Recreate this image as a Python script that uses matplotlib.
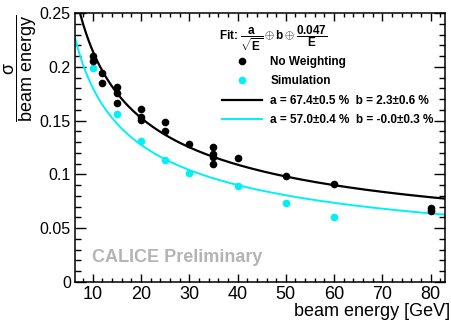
import numpy as np
import matplotlib
matplotlib.use("Agg")
import matplotlib.pyplot as plt
from matplotlib.lines import Line2D
from matplotlib.ticker import MultipleLocator, FuncFormatter

plt.rcParams["font.family"] = ["Liberation Sans", "DejaVu Sans"]
plt.rcParams["mathtext.fontset"] = "custom"
plt.rcParams["mathtext.rm"] = "Liberation Sans"
plt.rcParams["mathtext.it"] = "Liberation Sans"
plt.rcParams["mathtext.bf"] = "Liberation Sans:bold"

# data
energy_nw = [10, 10, 12, 12, 15, 15, 15, 20, 20, 20, 25, 25, 30, 35, 35, 35, 35, 40, 50, 60, 80, 80]
res_nw = [0.210, 0.205, 0.1945, 0.185, 0.181, 0.176, 0.166, 0.1605, 0.1535, 0.151,
          0.149, 0.140, 0.128, 0.1255, 0.119, 0.116, 0.110, 0.115, 0.0988, 0.0914, 0.0685, 0.0663]
energy_sim = [10, 15, 20, 25, 30, 40, 50, 60, 80]
res_sim = [0.199, 0.1564, 0.1313, 0.1131, 0.1013, 0.0895, 0.0737, 0.0601, 0.067]

# fit parameters (a/sqrt(E) + b + c/E in quadrature)
fit_c = 0.047
fit_nw = (0.674, 0.023)
fit_sim = (0.570, 0.0)

leg_title = r"Fit: $\dfrac{\mathbf{a}}{\sqrt{\mathbf{E}}} \oplus \mathbf{b} \oplus \dfrac{\mathbf{0.047}}{\mathbf{E}}$"
leg_labels = ["No Weighting", "Simulation",
              "a = 67.4\u00b10.5 %  b = 2.3\u00b10.6 %",
              "a = 57.0\u00b10.4 %  b = -0.0\u00b10.3 %"]

CYAN = "#00f0f8"


def resolution(E, a, b):
    return np.sqrt((a / np.sqrt(E)) ** 2 + b ** 2 + (fit_c / E) ** 2)


fig = plt.figure(figsize=(4.51, 3.22), dpi=100)
ax = fig.add_axes([75 / 451, 40 / 322, 370 / 451, 269 / 322])

E = np.linspace(6.3, 83, 400)
ax.plot(E, resolution(E, *fit_sim), color=CYAN, lw=1.4)
ax.plot(E, resolution(E, *fit_nw), color="black", lw=1.6)
ax.plot(energy_sim, res_sim, "o", color=CYAN, ms=5.5, mew=0)
ax.plot(energy_nw, res_nw, "o", color="black", ms=5.5, mew=0)

ax.set_xlim(6.3, 83)
ax.set_ylim(0, 0.25)
ax.xaxis.set_major_locator(MultipleLocator(10))
ax.xaxis.set_minor_locator(MultipleLocator(2))
ax.yaxis.set_major_locator(MultipleLocator(0.05))
ax.yaxis.set_minor_locator(MultipleLocator(0.01))
ax.yaxis.set_major_formatter(FuncFormatter(lambda v, p: f"{v:g}"))
ax.tick_params(which="both", direction="in", top=True, right=True, width=1.0)
ax.tick_params(axis="x", which="major", length=6, labelsize=13, pad=3)
ax.tick_params(axis="x", which="minor", length=3)
ax.tick_params(axis="y", which="major", length=8, labelsize=11.5, pad=3)
ax.tick_params(axis="y", which="minor", length=4)
for sp in ax.spines.values():
    sp.set_linewidth(1.1)

ax.set_xlabel("beam energy [GeV]", fontsize=13, ha="right")
ax.xaxis.set_label_coords((450 - 75) / 370, -21 / 269)

fig.text(21 / 451, 1 - 68 / 322, r"$\dfrac{\sigma}{\mathrm{beam\ energy}}$",
         rotation=90, fontsize=13, ha="center", va="center")

ax.text((92 - 75) / 370, (282 - 257) / 269, "CALICE Preliminary", transform=ax.transAxes,
        fontsize=13, fontweight="bold", color="#b4b4b4", va="center", ha="left")

# legend header with the fit function
ax.text((219 - 75) / 370, (282 - 38) / 269, leg_title, transform=ax.transAxes,
        fontsize=8.5, fontweight="bold", va="center", ha="left")

handles = [Line2D([], [], ls="", marker="o", color="black", ms=5.5, mew=0),
           Line2D([], [], ls="", marker="o", color=CYAN, ms=5.5, mew=0),
           Line2D([], [], color="black", lw=1.6),
           Line2D([], [], color=CYAN, lw=1.4)]
leg = ax.legend(handles, leg_labels, loc="upper left",
                bbox_to_anchor=((222 - 75) / 370, (282 - 56) / 269),
                frameon=False, prop={"weight": "bold", "size": 8.5},
                handlelength=3.4, handletextpad=0.7,
                labelspacing=0.62, borderpad=0, borderaxespad=0)

fig.savefig("out.png", dpi=100)
